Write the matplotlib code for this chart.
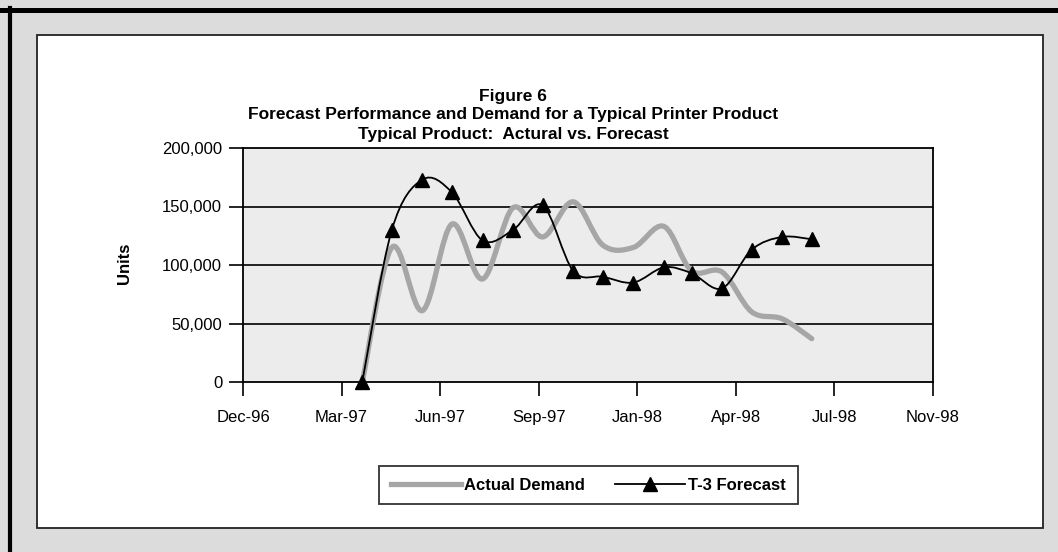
import datetime as dt
import numpy as np
import matplotlib
matplotlib.use("Agg")
import matplotlib.pyplot as plt
import matplotlib.dates as mdates
from matplotlib.path import Path
from matplotlib.patches import PathPatch, Rectangle
from matplotlib.lines import Line2D

plt.rcParams['font.family'] = ['Liberation Sans', 'DejaVu Sans']

# ---------------- data ----------------
months = ["1997-04", "1997-05", "1997-06", "1997-07", "1997-08", "1997-09",
          "1997-10", "1997-11", "1997-12", "1998-01", "1998-02", "1998-03",
          "1998-04", "1998-05", "1998-06", "1998-07"]
actual_demand = [0, 115000, 61000, 135000, 88000, 149000, 124000, 154000,
                 117000, 115000, 133000, 95000, 94000, 60000, 54000, 37000]
t3_forecast = [0, 130000, 173000, 162000, 121000, 130000, 151000, 95000,
               90000, 85000, 98000, 93000, 80000, 113000, 124000, 122000]
y_ticks = [0, 50000, 100000, 150000, 200000]
x_start = "1996-12-01"
x_end = "1998-11-01"
x_tick_step_days = 100
title_lines = ["Figure 6",
               "Forecast Performance and Demand for a Typical Printer Product",
               "Typical Product:  Actural vs. Forecast"]
y_label = "Units"
legend_labels = ["Actual Demand", "T-3 Forecast"]

# ---------------- helpers ----------------
def to_num(s):
    d = dt.datetime.strptime(s + ("-01" if len(s) == 7 else ""), "%Y-%m-%d")
    return mdates.date2num(d)

def smooth_path(xs, ys):
    pts = np.column_stack([xs, ys]).astype(float)
    n = len(pts)
    verts = [pts[0]]
    codes = [Path.MOVETO]
    for i in range(n - 1):
        p0 = pts[i - 1] if i > 0 else pts[i]
        p1 = pts[i]
        p2 = pts[i + 1]
        p3 = pts[i + 2] if i + 2 < n else pts[i + 1]
        c1 = p1 + (p2 - p0) / 6.0
        c2 = p2 - (p3 - p1) / 6.0
        verts += [c1, c2, p2]
        codes += [Path.CURVE4] * 3
    return Path(verts, codes)

x = np.array([to_num(m) for m in months])
x0, x1 = to_num(x_start), to_num(x_end)

W, H = 1058, 552
fig = plt.figure(figsize=(W / 100, H / 100), dpi=100)
fig.patch.set_facecolor("#dcdcdc")

# outer black frame lines (top and left)
fig.add_artist(Line2D([0, 1], [1 - 9.5 / H, 1 - 9.5 / H], color="black", lw=3.6,
                      transform=fig.transFigure, zorder=-2))
fig.add_artist(Line2D([10 / W, 10 / W], [0, 1 - 7.5 / H], color="black", lw=3.0,
                      transform=fig.transFigure, zorder=-2))
# white chart panel
fig.add_artist(Rectangle((37 / W, 1 - 528 / H), (1043 - 37) / W, (528 - 35) / H,
                         transform=fig.transFigure, facecolor="white",
                         edgecolor="#222222", lw=1.3, zorder=-1))

ax = fig.add_axes([243 / W, 1 - 382 / H, (933 - 243) / W, (382 - 148) / H])
ax.set_zorder(2)
ax.set_facecolor("#ececec")
ax.set_xlim(x0, x1)
ax.set_ylim(0, 200000)

for v in y_ticks[1:-1]:
    ax.axhline(v, color="black", lw=1.2, zorder=1)

ax.add_patch(PathPatch(smooth_path(x, actual_demand), facecolor="none",
                       edgecolor="#a6a6a6", lw=3.8, capstyle="round",
                       joinstyle="round", zorder=2))
ax.add_patch(PathPatch(smooth_path(x, t3_forecast), facecolor="none",
                       edgecolor="black", lw=1.3, zorder=3))
ax.plot(x, t3_forecast, linestyle="none", marker="^", markersize=10,
        color="black", zorder=4, clip_on=False)

ax.set_yticks(y_ticks)
ax.set_yticklabels([f"{v:,}" for v in y_ticks])
ticks = np.arange(x0, x1 + 1, x_tick_step_days)
ax.set_xticks(ticks)
ax.xaxis.set_major_formatter(mdates.DateFormatter("%b-%y"))
ax.tick_params(axis="both", direction="out", length=10, width=1.2,
               labelsize=12, colors="black")
ax.tick_params(axis="x", pad=10)
ax.tick_params(axis="y", pad=5)
for sp in ax.spines.values():
    sp.set_color("black")
    sp.set_linewidth(1.3)

fig.text(125 / W, 1 - 263 / H, y_label, rotation=90, ha="center", va="center",
         fontsize=12, fontweight="bold")

for i, (line, yy) in enumerate(zip(title_lines, [96, 115, 134])):
    fig.text(513 / W, 1 - yy / H, line, ha="center", va="center",
             fontsize=12.5, fontweight="bold")

handles = [Line2D([], [], color="#a6a6a6", lw=3.8),
           Line2D([], [], color="black", lw=1.3, marker="^", markersize=10)]
leg = fig.legend(handles, legend_labels, loc="center",
                 bbox_to_anchor=(588.5 / W, 1 - 485 / H), ncol=2,
                 frameon=True, fancybox=False, edgecolor="black",
                 prop={"weight": "bold", "size": 12}, handlelength=4.2,
                 handletextpad=0.2, columnspacing=1.8, borderpad=0.7)
leg.get_frame().set_linewidth(1.3)

fig.savefig("out.png", dpi=100, facecolor=fig.get_facecolor())
